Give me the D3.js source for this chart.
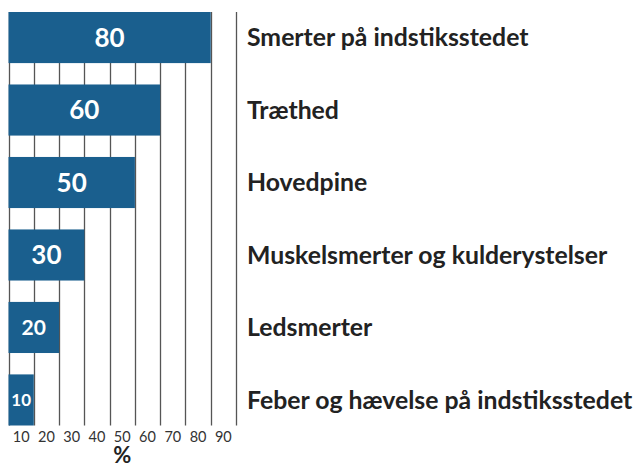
<!DOCTYPE html>
<html>
<head>
<meta charset="utf-8">
<script src="https://cdn.jsdelivr.net/npm/d3@7"></script>
<style>
  html, body { margin: 0; padding: 0; background: #fff; }
  svg { display: block; }
</style>
</head>
<body>
<svg id="chart" width="634" height="468"></svg>
<script>
const categories = [
  "Smerter på indstiksstedet",
  "Træthed",
  "Hovedpine",
  "Muskelsmerter og kulderystelser",
  "Ledsmerter",
  "Feber og hævelse på indstiksstedet"
];
const values = [80, 60, 50, 30, 20, 10];
const tickLabels = [10, 20, 30, 40, 50, 60, 70, 80, 90];
const axisTitle = "%";

const svg = d3.select("#chart");
const x = d3.scaleLinear().domain([0, 90]).range([8.5, 236]);
const y = d3.scaleBand().domain(categories).range([12, 425.5]).paddingInner(0.295).paddingOuter(0);

const barColor = "#1a5f8e";
const font = "Lato, 'Noto Sans', sans-serif";

// gridlines
const gridVals = d3.range(0, 100, 10);
svg.append("g").selectAll("line").data(gridVals).join("line")
  .attr("x1", d => Math.round(x(d)) + 0.5).attr("x2", d => Math.round(x(d)) + 0.5)
  .attr("y1", 12).attr("y2", 425.5)
  .attr("stroke", "#555").attr("stroke-width", 1.3);

// bars
svg.append("g").selectAll("rect").data(values).join("rect")
  .attr("x", x(0))
  .attr("y", (d, i) => y(categories[i]))
  .attr("width", d => x(d) - x(0))
  .attr("height", y.bandwidth())
  .attr("fill", barColor);

// value labels
const valSize = d => d >= 30 ? 26 : (d >= 20 ? 21 : 17);
svg.append("g").selectAll("text").data(values).join("text")
  .attr("x", d => (x(0) + x(d)) / 2)
  .attr("y", (d, i) => y(categories[i]) + y.bandwidth() / 2)
  .attr("dy", "0.36em")
  .attr("text-anchor", "middle")
  .attr("fill", "#fff")
  .attr("font-family", font)
  .attr("font-weight", "bold")
  .attr("font-size", d => valSize(d))
  .text(d => d);

// category labels
svg.append("g").selectAll("text").data(categories).join("text")
  .attr("x", 247)
  .attr("y", d => y(d) + y.bandwidth() / 2)
  .attr("dy", "0.36em")
  .attr("fill", "#222")
  .attr("font-family", font)
  .attr("font-weight", "bold")
  .attr("font-size", 24.8)
  .text(d => d);

// tick labels (centered in each interval)
svg.append("g").selectAll("text").data(tickLabels).join("text")
  .attr("x", d => x(d - 5))
  .attr("y", 436.5)
  .attr("dy", "0.36em")
  .attr("text-anchor", "middle")
  .attr("fill", "#333")
  .attr("font-family", font)
  .attr("font-size", 14.5)
  .text(d => d);

// axis title
svg.append("text")
  .attr("x", (x(0) + x(90)) / 2)
  .attr("y", 455)
  .attr("dy", "0.36em")
  .attr("text-anchor", "middle")
  .attr("fill", "#222")
  .attr("font-family", font)
  .attr("font-weight", "bold")
  .attr("font-size", 22)
  .text(axisTitle);
</script>
</body>
</html>
